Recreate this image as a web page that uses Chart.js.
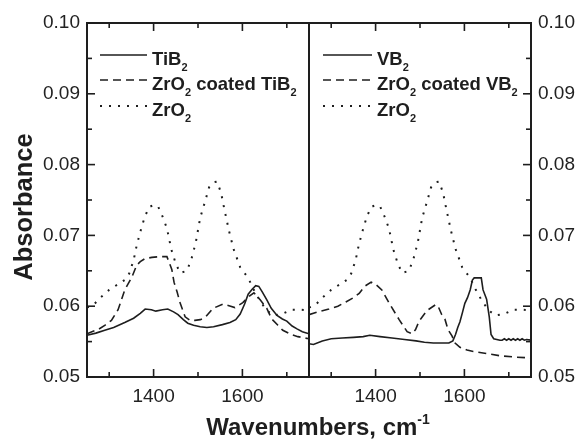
<!DOCTYPE html>
<html lang="en">
<head>
<meta charset="UTF-8">
<title>FTIR absorbance, TiB2 and VB2</title>
<script src="https://cdn.jsdelivr.net/npm/chart.js@4.4.1/dist/chart.umd.min.js"></script>
<style>
  html, body { margin: 0; padding: 0; background: #fff; }
  #wrap { position: relative; width: 579px; height: 439px; }
  #wrap canvas { position: absolute; left: 0; top: 0; }
</style>
</head>
<body>
<div id="wrap">
  <canvas id="leftPanel" width="579" height="439"></canvas>
  <canvas id="rightPanel" width="579" height="439"></canvas>
</div>
<script>
// ---- data ----
const xTicks = [1300, 1400, 1500, 1600, 1700];
const xLabels = [1400, 1600];
const yTicks = [0.05, 0.055, 0.06, 0.065, 0.07, 0.075, 0.08, 0.085, 0.09, 0.095, 0.10];

// ZrO2 reference spectrum (same in both panels)
const zro2X = [1250, 1265, 1280, 1300, 1320, 1335, 1345, 1355, 1362, 1370, 1380, 1390, 1400, 1410, 1420,
  1430, 1440, 1450, 1460, 1475, 1485, 1495, 1505, 1515, 1525, 1535, 1543, 1552, 1560, 1570, 1580, 1595,
  1613, 1625, 1640, 1655, 1670, 1690, 1710, 1730, 1750];
const zro2Y = [0.0598, 0.0602, 0.0612, 0.0623, 0.0631, 0.0637, 0.0646, 0.0665, 0.0686, 0.0705, 0.0726,
  0.0740, 0.0743, 0.0741, 0.0727, 0.0710, 0.0680, 0.0660, 0.0647, 0.0650, 0.0666, 0.0690, 0.0725, 0.0746,
  0.0768, 0.0775, 0.0776, 0.0760, 0.0735, 0.0706, 0.0681, 0.0655, 0.0640, 0.0624, 0.0607, 0.0594, 0.0587,
  0.0589, 0.0595, 0.0595, 0.0594];

const tib2X = [1250, 1270, 1290, 1310, 1335, 1355, 1370, 1381, 1395, 1405, 1420, 1432, 1445, 1455, 1467,
  1477, 1490, 1505, 1520, 1535, 1555, 1572, 1585, 1595, 1605, 1613, 1622, 1630, 1637, 1645, 1655, 1665,
  1678, 1690, 1700, 1712, 1723, 1735, 1750];
const tib2Y = [0.0559, 0.0562, 0.0566, 0.0570, 0.0577, 0.0583, 0.0590, 0.0596, 0.0595, 0.0593, 0.0595,
  0.0596, 0.0592, 0.0588, 0.0581, 0.0576, 0.0573, 0.0571, 0.0570, 0.0571, 0.0574, 0.0577, 0.0581, 0.0589,
  0.0603, 0.0617, 0.0624, 0.0629, 0.0628, 0.0620, 0.0609, 0.0597, 0.0587, 0.0582, 0.0579, 0.0572, 0.0568,
  0.0564, 0.0561];

const coatedTib2X = [1250, 1261, 1275, 1290, 1305, 1320, 1335, 1351, 1362, 1370, 1380, 1396, 1415, 1430,
  1441, 1446, 1453, 1459, 1471, 1482, 1493, 1505, 1516, 1534, 1556, 1568, 1583, 1601, 1615, 1626, 1640,
  1655, 1666, 1680, 1691, 1710, 1725, 1750];
const coatedTib2Y = [0.0561, 0.0564, 0.0567, 0.0573, 0.0580, 0.0595, 0.0623, 0.0641, 0.0658, 0.0663,
  0.0667, 0.0669, 0.0670, 0.0670, 0.0652, 0.0634, 0.0620, 0.0606, 0.0585, 0.0580, 0.0580, 0.0581, 0.0584,
  0.0597, 0.0603, 0.0601, 0.0598, 0.0605, 0.0614, 0.0619, 0.0609, 0.0597, 0.0582, 0.0573, 0.0566, 0.0560,
  0.0557, 0.0554];

const vb2X = [1250, 1260, 1280, 1300, 1325, 1350, 1372, 1387, 1410, 1437, 1465, 1491, 1510, 1530, 1550,
  1565, 1574, 1580, 1585, 1590, 1596, 1601, 1607, 1613, 1618, 1622, 1638, 1642, 1650, 1656, 1660, 1666,
  1680, 1685, 1690, 1695, 1700, 1705, 1710, 1715, 1720, 1725, 1730, 1735, 1740, 1750];
const vb2Y = [0.0547, 0.0546, 0.0551, 0.0554, 0.0555, 0.0556, 0.0557, 0.0559, 0.0557, 0.0555, 0.0553,
  0.0551, 0.0549, 0.0548, 0.0548, 0.0548, 0.0551, 0.0560, 0.0570, 0.0578, 0.0592, 0.0604, 0.0612, 0.0623,
  0.0637, 0.0640, 0.0640, 0.0623, 0.0610, 0.0585, 0.0560, 0.0554, 0.0552, 0.0552, 0.0554, 0.0552, 0.0554,
  0.0552, 0.0554, 0.0552, 0.0554, 0.0552, 0.0554, 0.0552, 0.0553, 0.0552];

const coatedVb2X = [1250, 1270, 1295, 1315, 1333, 1350, 1363, 1375, 1390, 1400, 1414, 1430, 1453, 1471,
  1482, 1490, 1498, 1516, 1535, 1540, 1549, 1556, 1563, 1572, 1579, 1590, 1606, 1620, 1642, 1680, 1718, 1750];
const coatedVb2Y = [0.0588, 0.0592, 0.0596, 0.0600, 0.0606, 0.0612, 0.0618, 0.0628, 0.0634, 0.0631,
  0.0623, 0.0605, 0.0581, 0.0564, 0.0561, 0.0567, 0.0579, 0.0594, 0.0602, 0.0601, 0.0588, 0.0582, 0.0567,
  0.0558, 0.0548, 0.0542, 0.0538, 0.0536, 0.0534, 0.0530, 0.0528, 0.0527];

// ---- drawing ----
const FONT = '"Liberation Sans", Arial, Helvetica, sans-serif';
const INK = '#1e1e1e';

const pts = (xs, ys) => xs.map((x, i) => ({ x: x, y: ys[i] }));

function series(label, xs, ys, kind) {
  const dash = kind === 'dash' ? [8, 5] : kind === 'dot' ? [2, 7] : [];
  return {
    label: label,
    data: pts(xs, ys),
    borderColor: INK,
    borderWidth: kind === 'dot' ? 2 : 1.6,
    borderDash: dash,
    pointRadius: 0,
    tension: 0,
    fill: false
  };
}

// text with _{sub} and ^{sup} pieces
function richParts(str) {
  const out = [];
  const re = /([_^])\{([^}]*)\}/g;
  let last = 0, m;
  while ((m = re.exec(str))) {
    if (m.index > last) out.push({ t: str.slice(last, m.index), k: '' });
    out.push({ t: m[2], k: m[1] });
    last = re.lastIndex;
  }
  if (last < str.length) out.push({ t: str.slice(last), k: '' });
  return out;
}

function drawRich(ctx, str, x, y, size, align) {
  const parts = richParts(str);
  const small = Math.round(size * 0.6);
  const fontFor = k => 'bold ' + (k ? small : size) + 'px ' + FONT;
  let total = 0;
  parts.forEach(p => { ctx.font = fontFor(p.k); p.w = ctx.measureText(p.t).width; total += p.w; });
  let cx = align === 'center' ? x - total / 2 : x;
  ctx.textAlign = 'left';
  ctx.textBaseline = 'alphabetic';
  parts.forEach(p => {
    ctx.font = fontFor(p.k);
    const dy = p.k === '_' ? size * 0.33 : p.k === '^' ? -size * 0.45 : 0;
    ctx.fillText(p.t, cx, y + dy);
    cx += p.w;
  });
}

const panelPlugin = {
  id: 'panel',
  afterDraw(chart, args, opts) {
    const { ctx, chartArea: a, scales } = chart;
    ctx.save();
    ctx.strokeStyle = INK;
    ctx.fillStyle = INK;
    ctx.setLineDash([]);

    // frame
    ctx.lineWidth = 2;
    ctx.strokeRect(a.left, a.top, a.right - a.left, a.bottom - a.top);

    // inward ticks
    ctx.lineWidth = 1.6;
    const seg = (x0, y0, x1, y1) => { ctx.beginPath(); ctx.moveTo(x0, y0); ctx.lineTo(x1, y1); ctx.stroke(); };
    scales.x.ticks.forEach(t => {
      const px = scales.x.getPixelForValue(t.value);
      const len = t.label ? 8 : 5;
      seg(px, a.bottom, px, a.bottom - len);
      seg(px, a.top, px, a.top + len);
    });
    const ox = opts.side === 'left' ? a.left : a.right;
    const dir = opts.side === 'left' ? 1 : -1;
    scales.y.ticks.forEach(t => {
      const py = scales.y.getPixelForValue(t.value);
      const len = t.label ? 8 : 5;
      seg(ox, py, ox + dir * len, py);
    });

    // legend
    const lg = opts.legend;
    chart.data.datasets.forEach((ds, i) => {
      const ly = lg.rows[i];
      ctx.lineWidth = ds.borderWidth;
      ctx.setLineDash(ds.borderDash);
      seg(lg.x0, ly, lg.x1, ly);
      ctx.setLineDash([]);
      drawRich(ctx, ds.label, lg.textX, ly + 10, 18.5, 'left');
    });

    // axis titles (drawn once, on the left panel)
    if (opts.titles) {
      drawRich(ctx, 'Wavenumbers, cm^{-1}', 318, 435, 24, 'center');
      ctx.translate(32, 207);
      ctx.rotate(-Math.PI / 2);
      drawRich(ctx, 'Absorbance', 0, 0, 25.5, 'center');
    }
    ctx.restore();
  }
};

function makePanel(id, side, datasets, legend, titles) {
  return new Chart(document.getElementById(id), {
    type: 'line',
    data: { datasets: datasets },
    plugins: [panelPlugin],
    options: {
      responsive: false,
      animation: false,
      layout: {
        padding: { top: 23, bottom: 0, left: side === 'left' ? 0 : 309, right: side === 'left' ? 270 : 0 }
      },
      plugins: {
        legend: { display: false },
        tooltip: { enabled: false },
        panel: { side: side, legend: legend, titles: titles }
      },
      scales: {
        x: {
          type: 'linear',
          min: 1250,
          max: 1750,
          afterBuildTicks: s => { s.ticks = xTicks.map(v => ({ value: v })); },
          afterFit: s => { s.height = 62; },
          grid: { display: false, drawTicks: false },
          border: { display: false },
          ticks: {
            autoSkip: false,
            maxRotation: 0,
            padding: 8,
            color: '#222',
            font: { family: FONT, size: 19 },
            callback: v => (xLabels.includes(v) ? String(v) : '')
          }
        },
        y: {
          position: side,
          min: 0.05,
          max: 0.10,
          afterBuildTicks: s => { s.ticks = yTicks.map(v => ({ value: v })); },
          afterFit: s => { s.width = side === 'left' ? 87 : 48; },
          grid: { display: false, drawTicks: false },
          border: { display: false },
          ticks: {
            autoSkip: false,
            padding: 7,
            color: '#222',
            font: { family: FONT, size: 19 },
            callback: v => (Math.round(v * 1000) % 10 === 0 ? v.toFixed(2) : '')
          }
        }
      }
    }
  });
}

makePanel('leftPanel', 'left', [
  series('TiB_{2}', tib2X, tib2Y, 'solid'),
  series('ZrO_{2} coated TiB_{2}', coatedTib2X, coatedTib2Y, 'dash'),
  series('ZrO_{2}', zro2X, zro2Y, 'dot')
], { x0: 100, x1: 147, textX: 152, rows: [55, 80, 106] }, true);

makePanel('rightPanel', 'right', [
  series('VB_{2}', vb2X, vb2Y, 'solid'),
  series('ZrO_{2} coated VB_{2}', coatedVb2X, coatedVb2Y, 'dash'),
  series('ZrO_{2}', zro2X, zro2Y, 'dot')
], { x0: 323, x1: 372, textX: 377, rows: [55, 80, 106] }, false);
</script>
</body>
</html>
